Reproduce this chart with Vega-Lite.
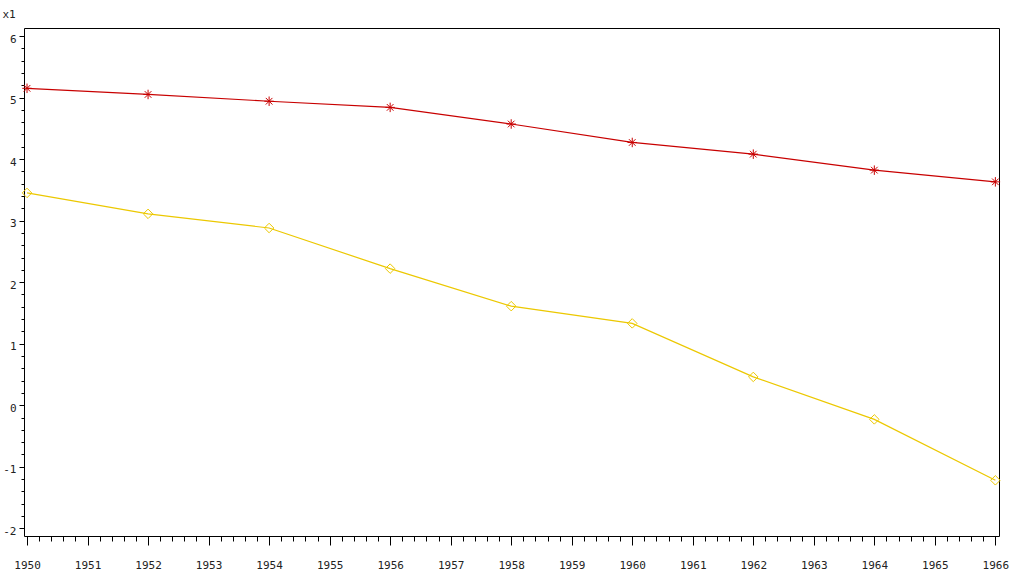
{
  "$schema": "https://vega.github.io/schema/vega-lite/v6.json",
  "width": 975,
  "height": 508,
  "autosize": "none",
  "padding": {"left": 24, "top": 28, "right": 12, "bottom": 43},
  "background": "white",
  "config": {
    "view": {"stroke": "black", "strokeWidth": 1},
    "font": "DejaVu Sans Mono",
    "axis": {"labelFont": "DejaVu Sans Mono", "labelFontSize": 11, "labelColor": "#222", "tickColor": "black", "domain": false, "grid": false}
  },
  "data": {"values": [
    {"year": 1950, "value": 5.15, "series": "A"},
    {"year": 1952, "value": 5.05, "series": "A"},
    {"year": 1954, "value": 4.94, "series": "A"},
    {"year": 1956, "value": 4.84, "series": "A"},
    {"year": 1958, "value": 4.57, "series": "A"},
    {"year": 1960, "value": 4.27, "series": "A"},
    {"year": 1962, "value": 4.08, "series": "A"},
    {"year": 1964, "value": 3.82, "series": "A"},
    {"year": 1966, "value": 3.63, "series": "A"},
    {"year": 1950, "value": 3.45, "series": "B"},
    {"year": 1952, "value": 3.11, "series": "B"},
    {"year": 1954, "value": 2.88, "series": "B"},
    {"year": 1956, "value": 2.22, "series": "B"},
    {"year": 1958, "value": 1.61, "series": "B"},
    {"year": 1960, "value": 1.33, "series": "B"},
    {"year": 1962, "value": 0.46, "series": "B"},
    {"year": 1964, "value": -0.23, "series": "B"},
    {"year": 1966, "value": -1.22, "series": "B"}
  ]},
  "encoding": {
    "x": {
      "field": "year", "type": "quantitative",
      "scale": {"domain": [1949.95, 1966.06], "nice": false, "zero": false},
      "axis": {
        "title": null,
        "values": [1950,1950.2,1950.4,1950.6,1950.8,1951,1951.2,1951.4,1951.6,1951.8,1952,1952.2,1952.4,1952.6,1952.8,1953,1953.2,1953.4,1953.6,1953.8,1954,1954.2,1954.4,1954.6,1954.8,1955,1955.2,1955.4,1955.6,1955.8,1956,1956.2,1956.4,1956.6,1956.8,1957,1957.2,1957.4,1957.6,1957.8,1958,1958.2,1958.4,1958.6,1958.8,1959,1959.2,1959.4,1959.6,1959.8,1960,1960.2,1960.4,1960.6,1960.8,1961,1961.2,1961.4,1961.6,1961.8,1962,1962.2,1962.4,1962.6,1962.8,1963,1963.2,1963.4,1963.6,1963.8,1964,1964.2,1964.4,1964.6,1964.8,1965,1965.2,1965.4,1965.6,1965.8,1966],
        "labelExpr": "abs(datum.value - round(datum.value)) < 0.001 ? '' + round(datum.value) : ''",
        "labelOverlap": false,
        "labelFlush": false,
        "labelBound": false,
        "labelBaseline": "middle",
        "labelPadding": 20,
        "tickSize": {"condition": {"test": "abs(datum.value - round(datum.value)) < 0.001", "value": 9}, "value": 5}
      }
    },
    "y": {
      "field": "value", "type": "quantitative",
      "scale": {"domain": [-2.125, 6.13], "nice": false, "zero": false},
      "axis": {
        "title": "x1",
        "titleAngle": 0,
        "titleX": -22,
        "titleY": -11,
        "titleAlign": "left",
        "titleBaseline": "alphabetic",
        "titleFont": "DejaVu Sans Mono",
        "titleFontSize": 11,
        "titleFontWeight": "normal",
        "titleColor": "#222",
        "values": [-2,-1.8,-1.6,-1.4,-1.2,-1,-0.8,-0.6,-0.4,-0.2,0,0.2,0.4,0.6,0.8,1,1.2,1.4,1.6,1.8,2,2.2,2.4,2.6,2.8,3,3.2,3.4,3.6,3.8,4,4.2,4.4,4.6,4.8,5,5.2,5.4,5.6,5.8,6],
        "labelExpr": "abs(datum.value - round(datum.value)) < 0.001 ? '' + round(datum.value) : ''",
        "labelOverlap": false,
        "labelFlush": false,
        "labelBound": false,
        "labelPadding": 3,
        "labelOffset": 3,
        "tickSize": {"condition": {"test": "abs(datum.value - round(datum.value)) < 0.001", "value": 5}, "value": 3}
      }
    },
    "color": {
      "field": "series", "type": "nominal",
      "scale": {"domain": ["A", "B"], "range": ["#c80000", "#ecc800"]},
      "legend": null
    }
  },
  "layer": [
    {"mark": {"type": "line", "strokeWidth": 1.2}},
    {
      "mark": {"type": "point", "filled": false, "strokeWidth": 1, "opacity": 1},
      "encoding": {
        "shape": {
          "field": "series", "type": "nominal",
          "scale": {"domain": ["A", "B"], "range": ["M0,-1L0,1M-1,0L1,0M-0.7,-0.7L0.7,0.7M-0.7,0.7L0.7,-0.7", "diamond"]},
          "legend": null
        },
        "size": {"value": 90}
      }
    }
  ]
}
